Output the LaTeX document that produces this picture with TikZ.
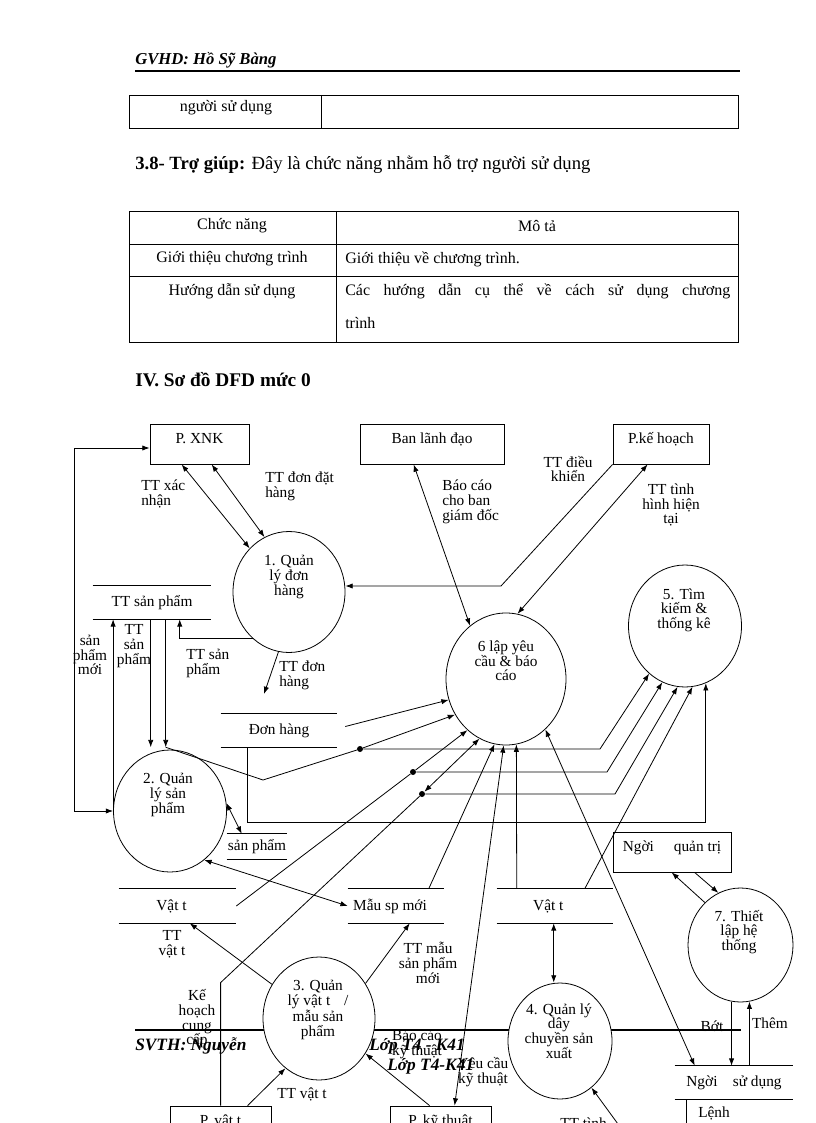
\documentclass[tikz,border=0pt]{standalone}
\usepackage{fontspec}
\setmainfont{Liberation Serif}
\usetikzlibrary{arrows.meta,shapes.geometric,calc}
\begin{document}
\begin{tikzpicture}[x=0.75pt,y=-0.75pt,
  every node/.style={font=\fontsize{11.5}{11}\selectfont, inner sep=0pt},
  body/.style={font=\fontsize{12}{14}\selectfont},
  ln/.style={line width=0.6pt},
  arr/.style={ln,-{Latex[length=5.5pt,width=4pt]}},
  barr/.style={ln,{Latex[length=5.5pt,width=4pt]}-{Latex[length=5.5pt,width=4pt]}},
  ent/.style={draw, line width=0.6pt, minimum height=30pt, text height=7.5pt, text depth=8pt},
  proc/.style={draw, ellipse, fill=white, line width=0.6pt, inner sep=0pt},
  store/.style={inner sep=0pt, append after command={\pgfextra{\let\stnode\tikzlastnode}
     (\stnode.north west) edge[ln] (\stnode.north east)
     (\stnode.south west) edge[ln] (\stnode.south east)}},
  jdot/.style={circle, fill, inner sep=0pt, minimum size=4.5pt},
  lbl/.style={align=center},
  lbll/.style={align=left},
  foot/.style={font=\fontsize{13}{15}\selectfont\bfseries\itshape}
]
\useasboundingbox (0,0) rectangle (816,1123);
\clip (0,0) rectangle (816,1123);

% ---------- header ----------
\node[anchor=west, font=\fontsize{12.5}{14}\selectfont\bfseries\itshape] (hdr) at (135,60) {GVHD: Hồ Sỹ Bàng};
\draw[line width=1.5pt] (135,71.5) -- (740,71.5);

% table 1
\draw[ln] (129,95) rectangle (738,128);
\draw[ln] (321,95) -- (321,128);
\node[body] (t1a) at (226,108) {người sử dụng};

\node[anchor=west, font=\fontsize{14}{16}\selectfont] (s38) at (135,165) {\textbf{3.8- Trợ giúp:} Đây là chức năng nhằm hỗ trợ người sử dụng};

% table 2
\draw[ln] (129,211) rectangle (738,342);
\draw[ln] (129,244) -- (738,244) (129,276) -- (738,276) (336,211) -- (336,342);
\node[body] (t2a) at (232,226) {Chức năng};
\node[body] (t2b) at (537,226) {Mô tả};
\node[body] (t2c) at (232,259) {Giới thiệu chương trình};
\node[body, anchor=west] (t2d) at (345,259) {Giới thiệu về chương trình.};
\node[body] (t2e) at (232,291) {Hướng dẫn sử dụng};
\node[body, anchor=west] (t2f) at (345,291) {\makebox[288.75pt][s]{Các hướng dẫn cụ thể về cách sử dụng chương}};
\node[body, anchor=west] (t2g) at (345,323) {trình};

\node[anchor=west, font=\fontsize{14.5}{16}\selectfont\bfseries] (sec4) at (135,380) {IV. Sơ đồ DFD mức 0};

% ---------- footer (behind diagram) ----------
\draw[line width=1.6pt] (135,1030) -- (741,1030);
\node[foot, anchor=west] (ft1) at (135,1046) {SVTH: Nguyễn};
\node[foot, anchor=east] (ft2) at (465,1046) {Lớp T4 - K41};
\node[foot, anchor=west] (ft3) at (387,1066) {Lớp T4-K41};

% ---------- external entities ----------
\node[ent, minimum width=74.25pt] (xnk) at (199.5,444) {P. XNK};
\node[ent, minimum width=108pt] (bld) at (432,444) {Ban lãnh đạo};
\node[ent, minimum width=72pt] (pkh) at (661,444) {P.kế hoạch};
\node[ent, minimum width=88.5pt] (nqt) at (672,852) {Ngời\hspace{1.3em}quản trị};
\node[ent, minimum width=75.75pt] (pvt) at (220.5,1126) {P. vật t};
\node[ent, minimum width=75.75pt] (pkt) at (440.5,1126) {P. kỹ thuật};

% ---------- processes ----------
\node[proc, minimum width=84pt, minimum height=90.75pt] (e1) at (289,592) {};
\node[proc, minimum width=84.75pt, minimum height=91.5pt] (e2) at (170,811) {};
\node[proc, minimum width=90pt, minimum height=99pt] (e6) at (506,679) {};
\node[proc, minimum width=84.75pt, minimum height=91.5pt] (e5) at (685,626) {};
\node[proc, minimum width=78.75pt, minimum height=85.5pt] (e7) at (740.5,945) {};
\node[proc, minimum width=84pt, minimum height=92.25pt] (e3) at (319,1018.5) {};
\node[proc, minimum width=78pt, minimum height=87pt] (e4) at (560,1041) {};

\node[lbl] (e1t) at (289,577) {1. Quản\\lý đơn\\hàng};
\node[lbl] (e2t) at (168,795) {2. Quản\\lý sản\\phẩm};
\node[lbl] (e6t) at (506,661) {6 lập yêu\\cầu \& báo\\cáo};
\node[lbl] (e5t) at (684,610) {5. Tìm\\kiếm \&\\thống kê};
\node[lbl] (e7t) at (739,932) {7. Thiết\\lập hệ\\thống};
\node[lbl] (e3t) at (318,1010) {3. Quản\\lý vật t\hspace{0.9em}/\\mẫu sản\\phẩm};
\node[lbl] (e4t) at (559,1031) {4. Quản lý\\dây\\chuyền sản\\xuất};

% ---------- data stores ----------
\node[store, minimum width=88.5pt, minimum height=24.75pt] (sttsp) at (152,602.5) {TT sản phẩm};
\node[store, minimum width=87pt, minimum height=24.75pt] (sdh) at (279,730.5) {Đơn hàng};
\node[store, minimum width=45pt, minimum height=18.75pt] (ssp) at (257,846.5) {sản phẩm};
\node[store, minimum width=87.75pt, minimum height=25.5pt] (svt1) at (177.5,906) {Vật t\kern 9pt};
\node[store, minimum width=72pt, minimum height=25.5pt] (smsp) at (396,906) {Mẫu sp mới\kern 9pt};
\node[store, minimum width=87pt, minimum height=25.5pt] (svt2) at (555,906) {Vật t\kern 10pt};
\node[store, minimum width=88.5pt, minimum height=24.75pt] (snsd) at (734,1082.5) {Ngời\hspace{1em}sử dụng};
\node (lenh) at (714,1113) {Lệnh};
\draw[ln] ($(snsd.south west)+(12,0)$) -- ++(0,40);

% junction dots
\node[jdot] (d1) at (360,749) {};
\node[jdot] (d2) at (413,772) {};
\node[jdot] (d3) at (422,794) {};

% ---------- connectors ----------
% loop left
\draw[barr] (e2.west) -- ++(-39,0) |- ($(xnk.west)+(0,4)$);
% P.XNK <-> 1
\draw[barr] ($(xnk.south west)+(32,0)$) -- (e1.132);
\draw[barr] ($(xnk.south west)+(62,0)$) -- (e1.114);
% Ban lanh dao <-> 6
\draw[barr] ($(bld.south west)+(54,0)$) -- (e6.124);
% P.ke hoach -> 1
\coordinate (b5) at (501,586);
\draw[arr] (pkh.south west) -- (b5) -- (b5 -| e1.east);
% 6 <-> P.ke hoach
\draw[barr] ($(pkh.south west)+(35,0)$) -- (e6.80);
% 1 -> TT san pham
\draw[arr] (e1.232) -| ($(sttsp.south west)+(87,0)$);
% 1 -> Don hang
\coordinate (c8) at (264,694);
\draw[arr] (e1.260) -- (c8);
% TT san pham <-> 2
\draw[arr] ($(sttsp.south west)+(58,0)$) -- ++(0,128);
\coordinate (v0) at ($(sttsp.south west)+(73,128)$);
\draw[arr] ($(sttsp.south west)+(73,0)$) -- (v0);
\draw[arr] (e2.west) -- (e2.west |- sttsp.south);
% 2 -> 6 / 5 via d1
\draw[ln] (v0) -- (263,780) -- (d1);
\draw[arr] (d1) -- (e6.215);
\draw[arr] (d1) -- ++(240,0) -- (e5.233);
% Don hang -> 6
\draw[arr] ($(sdh.east)+(8,-4)$) -- (e6.200);
% Don hang -> 5
\draw[arr] ($(sdh.south west)+(27,0)$) -- ++(0,75) -| (e5.290);
% Vat t (left) -> 6 / 5 via d2
\draw[ln] (svt1.east) -- (d2);
\draw[arr] (d2) -- (e6.233);
\draw[arr] (d2) -- ++(194,0) -- (e5.248);
% P. vat t <-> 6 via d3
\draw[barr] ($(pvt.north west)+(51,0)$) -- ++(0,-123) -- (d3) -- (e6.246);
\draw[arr] (d3) -- ++(193,0) -- (e5.263);
% Mau sp moi -> 6
\draw[arr] ($(smsp.north west)+(81,0)$) -- (e6.260);
% P. ky thuat <-> 6
\draw[barr] ($(pkt.north west)+(65,0)$) -- (e6.268);
% Vat t (right) -> 6, -> 5
\draw[arr] ($(svt2.north west)+(20,0)$) -- (e6.279);
\draw[arr] ($(svt2.north west)+(88,0)$) -- (e5.277);
% 6 <-> Nguoi su dung
\draw[barr] ($(snsd.north west)+(20,0)$) -- (e6.308);
% 2 <-> san pham ; 2 <-> Mau sp moi
\draw[barr] (e2.8) -- ($(ssp.north west)+(15,0)$);
\draw[barr] (e2.305) -- (smsp.west);
% 3 connectors
\draw[arr] (e3.144) -- ($(svt1.south west)+(71,0)$);
\draw[arr] (e3.37) -- ($(smsp.south west)+(62,0)$);
\draw[arr] ($(pvt.north west)+(78,0)$) -- (e3.236);
\draw[arr] ($(pkt.north west)+(40,0)$) -- (e3.323);
% 4 connectors
\coordinate (v4) at ($(svt2.south west)+(57,0)$);
\draw[barr] (v4) -- (v4 |- e4.north);
\coordinate (c4b) at (626,1135);
\draw[arr] (c4b) -- (e4.304);
% 7 connectors
\draw[arr] (e7.130) -- ($(nqt.south west)+(59,0)$);
\draw[arr] ($(nqt.south west)+(82,0)$) -- (e7.113);
\draw[arr] (e7.261) -- (e7.261 |- snsd.north);
\draw[arr] (e7.279 |- snsd.north) -- (e7.279);

% ---------- flow labels ----------
\node[lbll, anchor=north west] (lb1) at (141,480) {TT xác\\nhận};
\node[lbll, anchor=north west] (lb2) at (265,472) {TT đơn đặt\\hàng};
\node[lbll, anchor=north west] (lb3) at (442,480) {Báo cáo\\cho ban\\giám đốc};
\node[lbl] (lb4) at (568,469) {TT điều\\khiển};
\node[lbl] (lb5) at (671,505) {TT tình\\hình hiện\\tại};
\node[lbl] (lb6) at (90,655) {sản\\phẩm\\mới};
\node[lbl] (lb7) at (134,646) {TT\\sản\\phẩm};
\node[lbll, anchor=north west] (lb8) at (186,649) {TT sản\\phẩm};
\node[lbll, anchor=north west] (lb9) at (279,661) {TT đơn\\hàng};
\node[lbl] (lb10) at (172,944) {TT\\vật t};
\node[lbl] (lb11) at (428,963) {TT mẫu\\sản phẩm\\mới};
\node[lbl] (lb12) at (197,1019) {Kế\\hoạch\\cung\\cấp};
\node[lbl] (lb13) at (302,1094) {TT vật t};
\node[lbl] (lb14) at (417,1044) {Báo cáo\\kỹ thuật};
\node[lbl] (lb15) at (483,1072) {Yêu cầu\\kỹ thuật};
\node (lb16) at (712,1026) {Bớt};
\node (lb17) at (770,1023) {Thêm};
\node[anchor=north west] (lb18) at (560,1118) {TT tình};
\end{tikzpicture}
\end{document}
